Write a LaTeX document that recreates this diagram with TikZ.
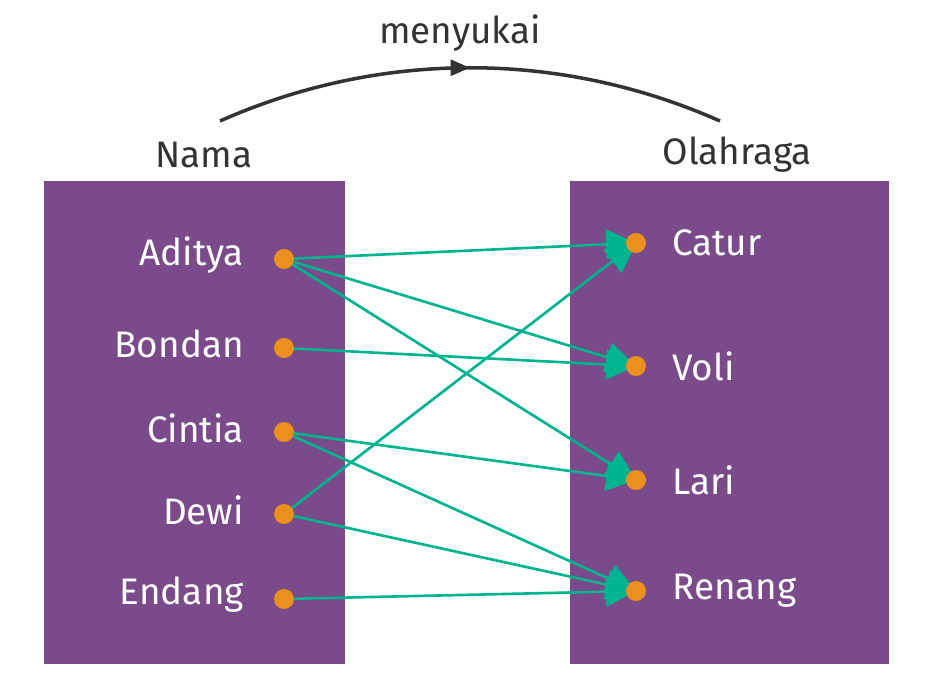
\documentclass[tikz,border=0pt]{standalone}
\usepackage{fontspec}
\setmainfont{Fira Sans}
\usetikzlibrary{arrows.meta,decorations.markings}
\definecolor{ungu}{HTML}{7A4A8A}
\definecolor{hijau}{HTML}{00B48F}
\definecolor{jingga}{HTML}{EB8F1E}
\definecolor{gelap}{HTML}{333333}
\tikzset{
  titik/.style={circle, fill=jingga, inner sep=0pt, minimum size=20\pgflinewidth},
  panah/.style={hijau, line width=1.5pt, -{Triangle[length=17pt,width=17pt]}},
  label/.style={text=white, font=\fontsize{21}{24}\selectfont},
  judul/.style={text=gelap, font=\fontsize{21}{24}\selectfont}
}
\begin{document}
\begin{tikzpicture}[x=0.02cm,y=-0.02cm]
	\useasboundingbox (0,0) rectangle (927,697);
	%Kotak
	\fill[ungu] (44,181) rectangle (345,664);
	\fill[ungu] (570,181) rectangle (889,664);
	%Judul
	\node[judul] at (204,155) {Nama};
	\node[judul] at (737,155) {Olahraga};
	\node[judul] at (460,33) {menyukai};
	\draw[gelap, line width=2pt, decoration={markings, mark=at position 0.5 with {\arrow{Triangle[length=11pt,width=9pt]}}}, postaction=decorate]
		(220,121) .. controls (380,50) and (560,50) .. (720,121);
	%Nama
	\foreach \n/\t/\y in {a/Aditya/259, b/Bondan/348, c/Cintia/432, d/Dewi/514, e/Endang/599} {
		\coordinate (\n) at (284,\y);
		\node[label, anchor=east] (l\n) at (250,\y-4) {\t};
	}
	%Olahraga
	\foreach \n/\t/\y in {catur/Catur/243, voli/Voli/366, lari/Lari/480, renang/Renang/591} {
		\coordinate (\n) at (636,\y);
		\node[label, anchor=west] (l\n) at (666,\y) {\t};
	}
	%Relasi
	\foreach \s/\t in {a/catur, a/voli, a/lari, b/voli, c/lari, c/renang, d/catur, d/renang, e/renang}
		\draw[panah] (\s) -- (\t);
	%Titik
	\foreach \n in {a,b,c,d,e,catur,voli,lari,renang}
		\fill[jingga] (\n) circle (10);
\end{tikzpicture}
\end{document}
